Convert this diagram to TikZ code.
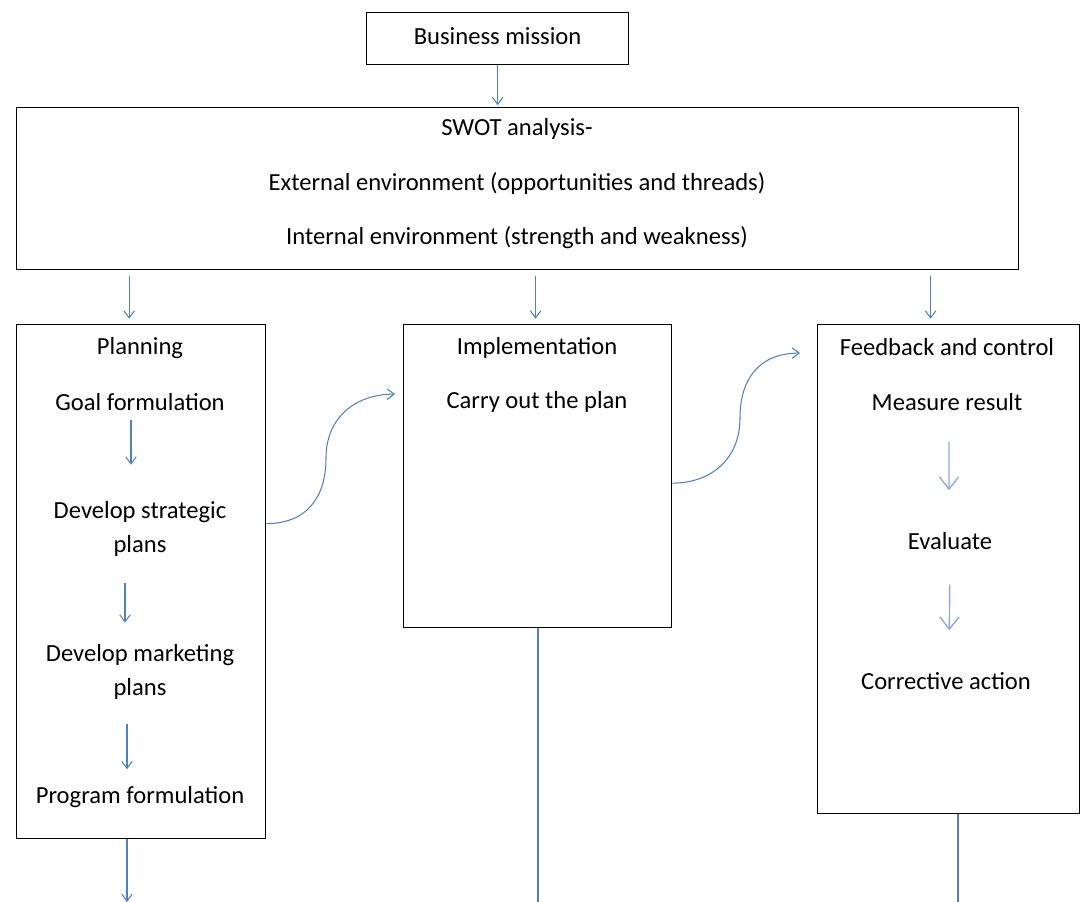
\documentclass[tikz,border=0pt]{standalone}
\usepackage{fontspec}
\setmainfont{Carlito}
\usetikzlibrary{arrows.meta, positioning, calc}
\definecolor{flowBlue}{HTML}{4F81BD}
\definecolor{paleBlue}{HTML}{8EAADB}

\begin{document}
\begin{tikzpicture}[
    x=0.02cm, y=-0.02cm,
    box/.style={draw, line width=0.75pt, anchor=north west, inner sep=0pt, align=center,
                font=\fontsize{14}{17}\selectfont},
    txt/.style={font=\fontsize{14}{19}\selectfont, inner sep=1pt, align=center},
    flow/.style={draw=flowBlue, line width=0.6pt, -{Straight Barb[length=4pt, width=6pt]}},
    softflow/.style={draw=paleBlue, line width=0.8pt, -{Straight Barb[length=7pt, width=11pt]}},
    link/.style={draw=flowBlue, line width=0.6pt}
  ]
    \useasboundingbox (0,0) rectangle (1083,902);

    % top boxes
    \node[box, minimum width=5.24cm, minimum height=1.04cm, text depth=3pt] (mission) at (366,12) {Business mission};
    \node[box, minimum width=20.04cm, minimum height=3.24cm] (swot) at (16,107) {};
    \node[txt, font=\fontsize{14}{31}\selectfont] (swotText) at (517,184)
      {SWOT analysis-\\External environment (opportunities and threads)\\Internal environment (strength and weakness)};

    % the three columns
    \node[box, minimum width=4.98cm, minimum height=10.28cm] (plan) at (16,324) {};
    \node[box, minimum width=5.36cm, minimum height=6.06cm] (impl) at (403,324) {};
    \node[box, minimum width=5.24cm, minimum height=9.78cm] (fb) at (817,324) {};

    \node[txt] (planTitle) at (140,348) {Planning};
    \node[txt] (goal) at (140,402) {Goal formulation};
    \node[txt] (strat) at (140,529) {Develop strategic\\plans};
    \node[txt] (mkt) at (140,672) {Develop marketing\\plans};
    \node[txt] (prog) at (140,797) {Program formulation};

    \node[txt] (implTitle) at (537,348) {Implementation};
    \node[txt] (carry) at (537,402) {Carry out the plan};

    \node[txt] (fbTitle) at (947,347) {Feedback and control};
    \node[txt] (measure) at (947,402) {Measure result};
    \node[txt] (eval) at (950,541) {Evaluate};
    \node[txt] (corr) at (946,681) {Corrective action};

    % connectors
    \draw[flow, shorten >=1pt] (mission.south) -- (mission.south |- swot.north);
    \draw[flow, shorten <=3pt, shorten >=3pt] ($(swot.south -| plan.north)+(-12,0)$) -- ($(plan.north)+(-12,0)$);
    \draw[flow, shorten <=3pt, shorten >=3pt] ($(swot.south -| impl.north)+(-2,0)$) -- ($(impl.north)+(-2,0)$);
    \draw[flow, shorten <=3pt, shorten >=3pt] ($(swot.south -| fb.north)+(-18,0)$) -- ($(fb.north)+(-18,0)$);

    \draw[flow, shorten <=0.15cm, shorten >=0.7cm] ([xshift=-0.18cm]goal.south) -- ([xshift=-0.18cm]strat.north);
    \draw[flow, shorten <=0.5cm, shorten >=0.4cm] ([xshift=-0.3cm]strat.south) -- ([xshift=-0.3cm]mkt.north);
    \draw[flow, shorten <=0.45cm, shorten >=0.3cm] ([xshift=-0.26cm]mkt.south) -- ([xshift=-0.26cm]prog.north);

    \draw[softflow, shorten <=0.58cm, shorten >=0.8cm] ([xshift=0.04cm]measure.south) -- ([xshift=-0.02cm]eval.north);
    \draw[softflow, shorten <=0.66cm, shorten >=0.8cm] (eval.south) -- ([xshift=0.06cm]corr.north);

    \coordinate (bendA) at (326,458);
    \coordinate (bendB) at (740,418);
    \draw[flow] ($(plan.east)+(0,-58)$) .. controls +(40,0) and +(0,40) .. (bendA)
      .. controls +(0,-40) and +(-40,0) .. ($(impl.west)+(-8,-82)$);
    \draw[flow] ($(impl.east)+(0,7)$) .. controls +(40,0) and +(0,40) .. (bendB)
      .. controls +(0,-40) and +(-40,0) .. ($(fb.west)+(-17,-216)$);

    \coordinate (planOut) at (127,902);
    \coordinate (implOut) at (538,902);
    \coordinate (fbOut) at (958,902);
    \draw[flow] (planOut |- plan.south) -- (planOut);
    \draw[link] (implOut |- impl.south) -- (implOut);
    \draw[link] (fbOut |- fb.south) -- (fbOut);
\end{tikzpicture}
\end{document}
